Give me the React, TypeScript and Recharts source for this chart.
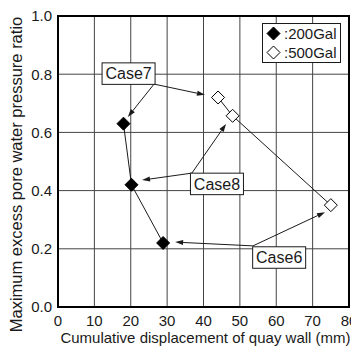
import { ScatterChart, Scatter, XAxis, YAxis, CartesianGrid, ReferenceLine, ReferenceDot, ReferenceArea, Legend } from 'recharts';

// tick positions
const xTicks = [0, 10, 20, 30, 40, 50, 60, 70, 80];
const yTicks = [0, 0.2, 0.4, 0.6, 0.8, 1.0];

// series
const gal200 = [
  { x: 18.0, y: 0.63 },
  { x: 20.2, y: 0.42 },
  { x: 28.9, y: 0.22 },
];
const gal500 = [
  { x: 44.0, y: 0.72 },
  { x: 48.0, y: 0.657 },
  { x: 75.0, y: 0.35 },
];

// callout boxes (data coords of box centre)
const caseLabels = [
  { name: 'Case7', x: 19.4, y: 0.802 },
  { name: 'Case8', x: 43.7, y: 0.423 },
  { name: 'Case6', x: 60.8, y: 0.17 },
];

// callout arrows: start at box corner, end near the point
const caseArrows = [
  { x1: 26.4, y1: 0.766, x2: 19.2, y2: 0.653 },
  { x1: 26.4, y1: 0.766, x2: 40.4, y2: 0.729 },
  { x1: 36.8, y1: 0.46, x2: 23.1, y2: 0.436 },
  { x1: 36.8, y1: 0.46, x2: 46.2, y2: 0.629 },
  { x1: 53.6, y1: 0.21, x2: 32.2, y2: 0.223 },
  { x1: 53.6, y1: 0.21, x2: 73.4, y2: 0.326 },
];

const FONT = '"Liberation Sans", Arial, sans-serif';
const INK = '#1a1a1a';

function Diamond({ cx, cy, filled }: { cx?: number; cy?: number; filled: boolean }) {
  if (cx == null || cy == null) return null;
  const r = 6.5;
  return (
    <polygon
      points={`${cx},${cy - r} ${cx + r},${cy} ${cx},${cy + r} ${cx - r},${cy}`}
      fill={filled ? '#000' : '#fff'}
      stroke="#000"
      strokeWidth={1}
    />
  );
}

function Arrow(props: any) {
  const { x1, y1, x2, y2 } = props;
  const dx = x2 - x1;
  const dy = y2 - y1;
  const len = Math.sqrt(dx * dx + dy * dy) || 1;
  const ux = dx / len;
  const uy = dy / len;
  const hl = 8;
  const hw = 2.6;
  const bx = x2 - ux * hl;
  const by = y2 - uy * hl;
  return (
    <g>
      <line x1={x1} y1={y1} x2={bx} y2={by} stroke={INK} strokeWidth={1} />
      <polygon
        points={`${x2},${y2} ${bx - uy * hw},${by + ux * hw} ${bx + uy * hw},${by - ux * hw}`}
        fill={INK}
      />
    </g>
  );
}

function CaseBox(props: any, name: string) {
  const { cx, cy } = props;
  const w = 53;
  const h = 21.5;
  return (
    <g>
      <rect x={cx - w / 2} y={cy - h / 2} width={w} height={h} fill="#fff" stroke={INK} strokeWidth={1} />
      <text x={cx} y={cy + 5.8} textAnchor="middle" fontSize={16} fontFamily={FONT} fill={INK}>
        {name}
      </text>
    </g>
  );
}

function YLabel(props: any) {
  const vb = props.viewBox || { x: 0, y: 0, width: 0, height: 0 };
  const x = vb.x + 14;
  const y = vb.y + vb.height / 2 + 13;
  return (
    <text
      x={x}
      y={y}
      transform={`rotate(-90, ${x}, ${y})`}
      textAnchor="middle"
      fontSize={16.5}
      fontFamily={FONT}
      fill={INK}
    >
      Maximum excess pore water pressure ratio
    </text>
  );
}

function XLabel(props: any) {
  const vb = props.viewBox || { x: 0, y: 0, width: 0, height: 0 };
  return (
    <text
      x={vb.x + vb.width / 2 + 2}
      y={vb.y + 35.7}
      textAnchor="middle"
      fontSize={15}
      fontFamily={FONT}
      fill={INK}
    >
      Cumulative displacement of quay wall (mm)
    </text>
  );
}

function LegendBox() {
  const rows = [
    { label: ':200Gal', filled: true },
    { label: ':500Gal', filled: false },
  ];
  return (
    <div
      style={{
        border: `1px solid ${INK}`,
        background: '#fff',
        width: 77,
        height: 38,
        fontFamily: FONT,
        fontSize: 15,
        color: INK,
        boxSizing: 'content-box',
      }}
    >
      {rows.map((r) => (
        <div key={r.label} style={{ display: 'flex', alignItems: 'center', height: 19, paddingLeft: 2 }}>
          <svg width={17} height={17} style={{ display: 'block' }}>
            <Diamond cx={8.5} cy={8.5} filled={r.filled} />
          </svg>
          <span style={{ marginLeft: 2, lineHeight: '19px' }}>{r.label}</span>
        </div>
      ))}
    </div>
  );
}

export default function App() {
  return (
    <ScatterChart
      width={351}
      height={341}
      margin={{ top: 8, right: 10, left: 0, bottom: 0 }}
      style={{ fontFamily: FONT }}
    >
      <CartesianGrid stroke="#444" strokeWidth={1} horizontalValues={yTicks} verticalValues={xTicks} />
      <XAxis
        type="number"
        dataKey="x"
        domain={[0, 80]}
        ticks={xTicks}
        interval={0}
        height={42}
        tickLine={false}
        tickSize={0}
        tickMargin={8}
        axisLine={false}
        tick={{ fill: INK, fontSize: 15, fontFamily: FONT }}
        label={<XLabel />}
      />
      <YAxis
        type="number"
        dataKey="y"
        domain={[0, 1]}
        ticks={yTicks}
        interval={0}
        width={50}
        tickLine={false}
        tickSize={0}
        tickMargin={6}
        axisLine={false}
        tickFormatter={(v: number) => v.toFixed(1)}
        tick={{ fill: INK, fontSize: 15, fontFamily: FONT }}
        label={<YLabel />}
      />
      <ReferenceArea x1={0} x2={80} y1={0} y2={1} fill="none" stroke="#000" strokeWidth={2} fillOpacity={0} />
      <Legend
        layout="vertical"
        align="center"
        verticalAlign="middle"
        wrapperStyle={{ left: 254, top: 15, width: 'auto', height: 'auto' }}
        content={() => <LegendBox />}
      />
      {caseArrows.map((a, i) => (
        <ReferenceLine
          key={`arrow-${i}`}
          segment={[
            { x: a.x1, y: a.y1 },
            { x: a.x2, y: a.y2 },
          ]}
          shape={(p: any) => <Arrow {...p} />}
        />
      ))}
      <Scatter
        name="200Gal"
        data={gal200}
        line={{ stroke: INK, strokeWidth: 1 }}
        shape={(p: any) => <Diamond cx={p.cx} cy={p.cy} filled />}
        isAnimationActive={false}
      />
      <Scatter
        name="500Gal"
        data={gal500}
        line={{ stroke: INK, strokeWidth: 1 }}
        shape={(p: any) => <Diamond cx={p.cx} cy={p.cy} filled={false} />}
        isAnimationActive={false}
      />
      {caseLabels.map((c) => (
        <ReferenceDot key={c.name} x={c.x} y={c.y} r={1} shape={(p: any) => CaseBox(p, c.name)} />
      ))}
    </ScatterChart>
  );
}
